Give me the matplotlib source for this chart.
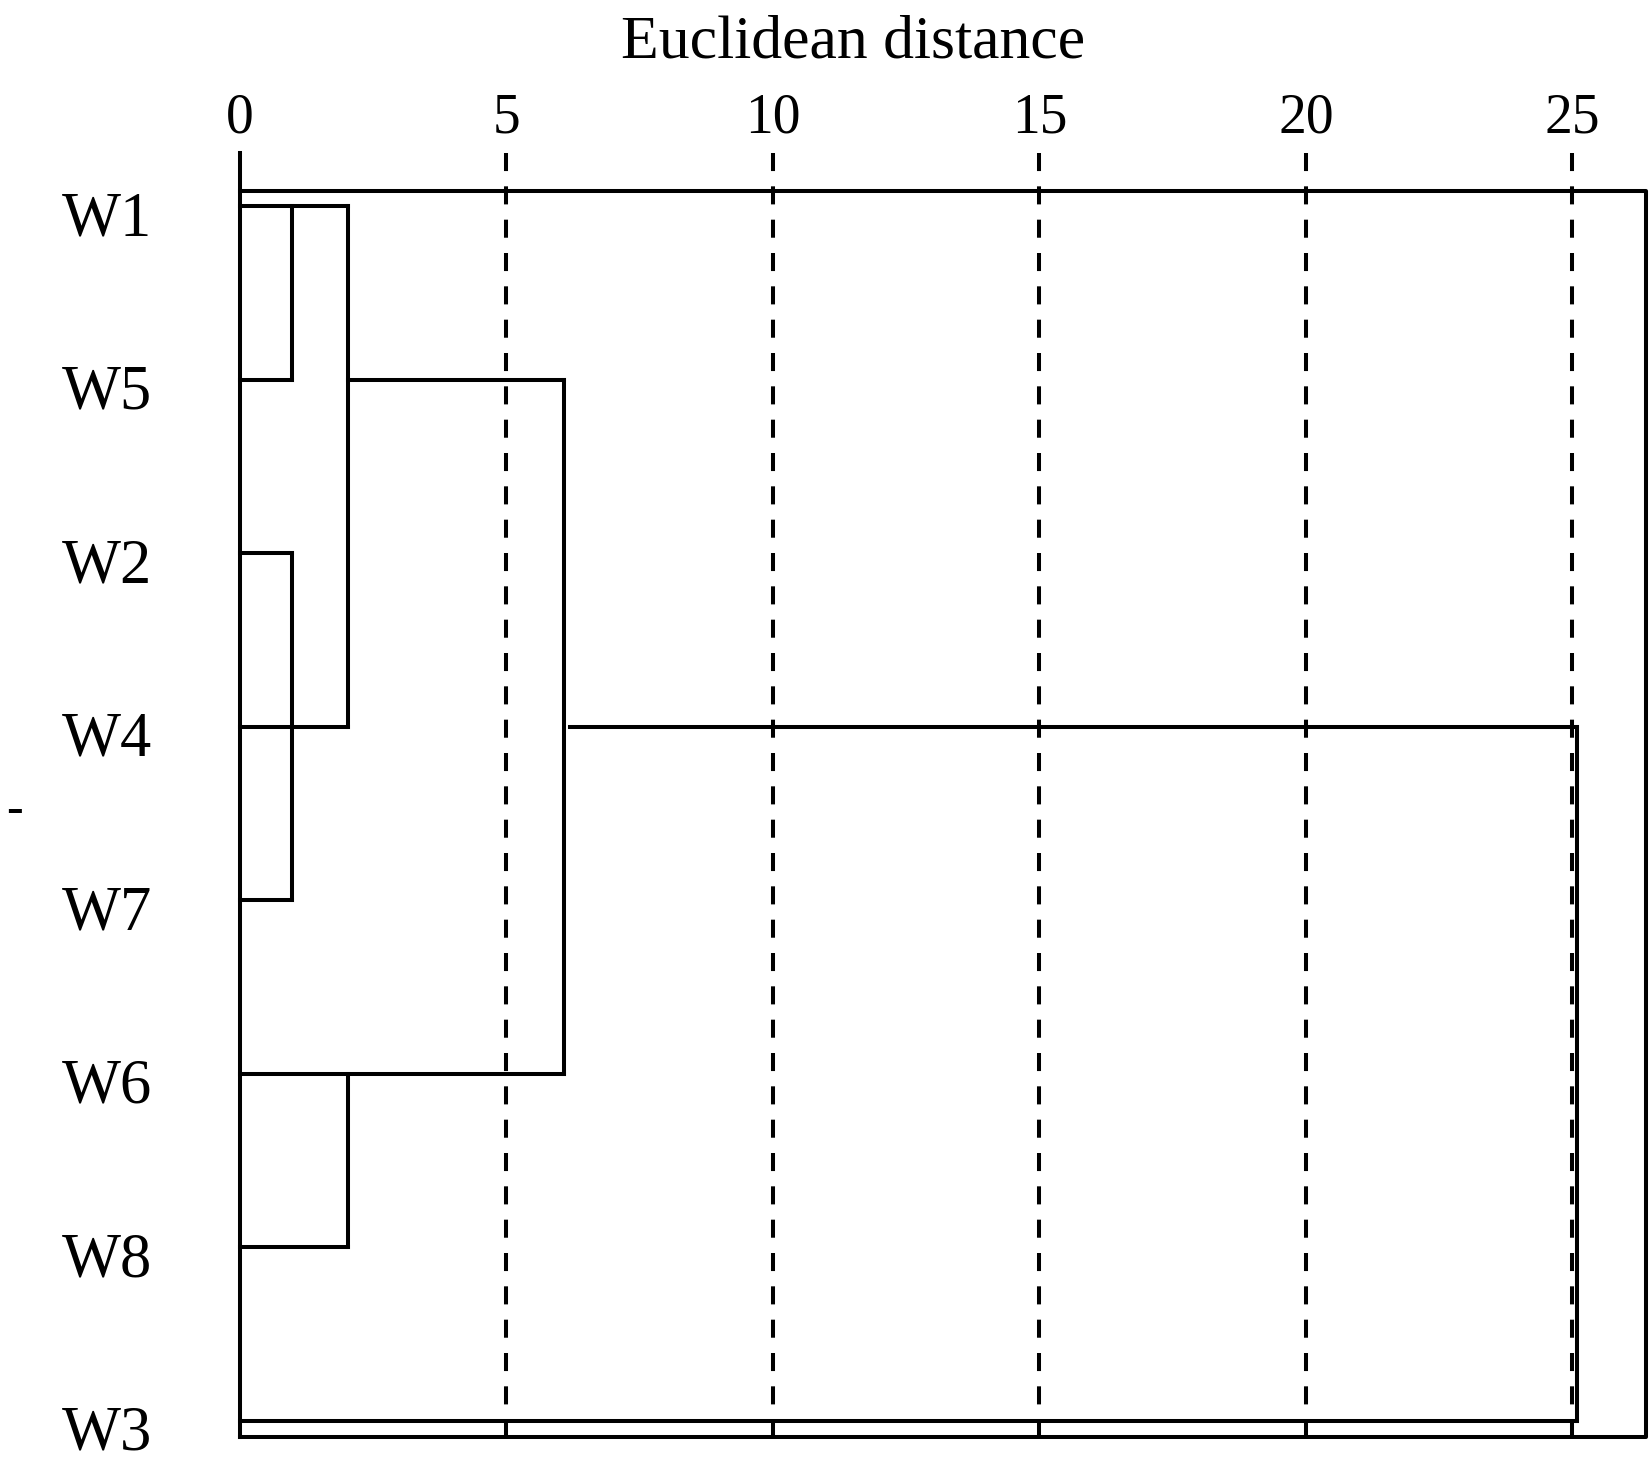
import matplotlib
matplotlib.use("Agg")
import matplotlib.pyplot as plt
import matplotlib.transforms as mtransforms

plt.rcParams['font.family'] = ['Liberation Serif', 'DejaVu Serif']

# leaves from top to bottom
leaves = ["W1", "W5", "W2", "W4", "W7", "W6", "W8", "W3"]
# merge distances
d_w1_w5 = 0.97
d_w2_w7 = 0.97
d_w4 = 2.02        # (W1,W5) with W4
d_w6_w8 = 2.02
d_big = 6.07       # (W1..W7) with (W6,W8)
d_w3 = 25.08       # final join with W3
link_start = 6.2   # where the final horizontal starts on the W4 row
xticks = [0, 5, 10, 15, 20, 25]
x_max = 26.38

lw = 2.9
col = "black"

fig = plt.figure(figsize=(16.51, 14.71), dpi=100)
ax = fig.add_axes([240 / 1651, 1 - 1437 / 1471, 1406 / 1651, (1437 - 152.7) / 1471])
ax.set_xlim(0, x_max)
top_y, frame_top, frame_bot = -0.31, -0.091, 7.095
ax.set_ylim(frame_bot, top_y)

y = {name: i for i, name in enumerate(leaves)}


def seg(x0, x1, y0, y1):
    ax.plot([x0, x1], [y0, y1], color=col, lw=lw, clip_on=False,
            solid_capstyle="projecting")


# W1 / W5 cluster
seg(0, d_w4, y["W1"], y["W1"])
seg(d_w1_w5, d_w1_w5, y["W1"], y["W5"])
seg(0, d_w1_w5, y["W5"], y["W5"])
seg(d_w4, d_w4, y["W1"], y["W4"])
seg(0, d_w4, y["W4"], y["W4"])
seg(d_w4, d_big, y["W5"], y["W5"])
# W2 / W7
seg(0, d_w2_w7, y["W2"], y["W2"])
seg(d_w2_w7, d_w2_w7, y["W2"], y["W7"])
seg(0, d_w2_w7, y["W7"], y["W7"])
# W6 / W8
seg(0, d_big, y["W6"], y["W6"])
seg(d_big, d_big, y["W5"], y["W6"])
seg(0, d_w6_w8, y["W8"], y["W8"])
seg(d_w6_w8, d_w6_w8, y["W6"], y["W8"])
# final join with W3
seg(link_start, d_w3, y["W4"], y["W4"])
seg(d_w3, d_w3, y["W4"], y["W3"])
seg(0, d_w3, y["W3"], y["W3"])

# frame
ax.plot([0, x_max, x_max, 0], [frame_top, frame_top, frame_bot, frame_bot],
        color=col, lw=lw, clip_on=False)
seg(0, 0, top_y, frame_bot)

# dashed reference lines
for t in xticks[1:]:
    ax.plot([t, t], [top_y, frame_bot], color=col, lw=lw, clip_on=False,
            linestyle=(0, (13 / lw, 11 / lw)))

for s in ax.spines.values():
    s.set_visible(False)

ax.xaxis.tick_top()
ax.set_xticks(xticks)
ax.set_xticklabels([str(t) for t in xticks], fontsize=40)
ax.tick_params(axis="x", length=0, pad=6)
ax.set_yticks(range(len(leaves)))
ax.set_yticklabels(leaves, fontsize=45)
ax.tick_params(axis="y", length=0, pad=63)
shift = mtransforms.ScaledTranslation(0, -5 / 72, fig.dpi_scale_trans)
for lab in ax.get_yticklabels():
    lab.set_transform(lab.get_transform() + shift)

ax.xaxis.set_label_position("top")
ax.set_xlabel("Euclidean distance", fontsize=44.5)
ax.xaxis.set_label_coords(0.436, 1.074)

fig.text(14 / 1651, 1 - 811 / 1471, "-", fontsize=36, ha="center", va="center")

fig.savefig("out.png", dpi=100)
